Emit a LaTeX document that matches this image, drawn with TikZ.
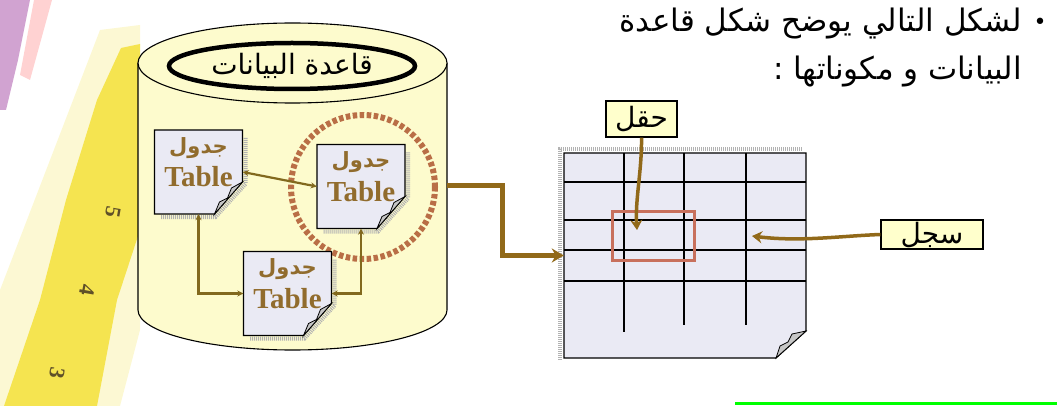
\documentclass[tikz,border=0pt]{standalone}
\usepackage{fontspec}
\setmainfont{Liberation Serif}
\newfontfamily\arabicfont[Script=Arabic]{DejaVu Sans}
\newfontfamily\symfont{DejaVu Sans}
\TeXXeTstate=1
\usetikzlibrary{arrows.meta,calc,shapes.geometric}
\definecolor{dbyellow}{RGB}{253,251,205}
\definecolor{paper}{RGB}{234,234,244}
\definecolor{linkbrown}{RGB}{130,105,30}
\definecolor{flowbrown}{RGB}{145,105,25}
\definecolor{ringred}{RGB}{185,110,70}
\definecolor{boxred}{RGB}{200,112,92}
\definecolor{tabletext}{RGB}{145,108,45}
\definecolor{labelfill}{RGB}{255,255,204}
\definecolor{ruleryellow}{RGB}{245,228,80}
\definecolor{rulerink}{RGB}{95,80,40}
\definecolor{markgreen}{RGB}{0,255,0}

\begin{document}
\begin{tikzpicture}[x=1pt, y=-1pt, >=Stealth,
    dbwall/.style={draw=black, line width=1.1pt, fill=dbyellow},
    dbtitle/.style={ellipse, draw=black, line width=4.5pt, minimum width=246pt,
        minimum height=46pt, inner sep=0pt, font=\arabicfont\fontsize{28}{30}\selectfont},
    docpage/.style={draw=black, line width=1.2pt, fill=paper},
    docshadow/.style={draw=gray!60, line width=4pt, dash pattern=on 1pt off 1pt},
    curl/.style={draw=black, line width=0.8pt, fill=gray!45},
    arabictag/.style={text=tabletext, inner sep=0pt, font=\arabicfont\bfseries\fontsize{21}{22}\selectfont},
    latintag/.style={text=tabletext, inner sep=0pt, font=\bfseries\fontsize{29}{30}\selectfont},
    ring/.style={draw=ringred, line width=6pt, dash pattern=on 4.5pt off 2.5pt},
    link/.style={draw=linkbrown, line width=2.2pt,
        {Stealth[length=6pt,width=6pt]}-{Stealth[length=6pt,width=6pt]}},
    flow/.style={draw=flowbrown, line width=5pt, -{Stealth[length=12pt,width=14pt]}},
    gridline/.style={black, line width=1.6pt},
    fieldbox/.style={draw=boxred, line width=3pt},
    tag/.style={draw=black, line width=1.3pt, fill=labelfill, inner sep=0pt,
        font=\arabicfont\fontsize{28}{30}\selectfont},
    pointer/.style={draw=flowbrown, line width=3.5pt, -{Stealth[length=10pt,width=12pt]}},
    heading/.style={anchor=east, inner sep=0pt, font=\arabicfont\fontsize{31}{34}\selectfont},
    digit/.style={rotate=-100, text=rulerink, font=\bfseries\fontsize{22}{22}\selectfont}]

    \useasboundingbox (0,0) rectangle (1057,406);

    % -- ruler strip on the left edge --
    \fill[ruleryellow!25] (100,30) -- (140,25) -- (140,330) -- (120,406) -- (0,406) -- (0,290) -- cycle;
    \fill[ruleryellow] (121,48) -- (140,44) -- (140,230) -- (117,300) -- (97,406)
        -- (4,406) -- (40,300) -- (66,200) -- (97,100) -- cycle;
    \fill[violet!45!white, opacity=0.8] (0,0) -- (30,0) -- (18,60) -- (6,110) -- (0,110) -- cycle;
    \fill[red!25!white, opacity=0.7] (34,0) -- (52,0) -- (30,80) -- (20,75) -- cycle;
    \node[digit] (mk5) at (113,212) {5};
    \node[digit] (mk4) at (87,290) {4};
    \node[digit] (mk3) at (57,373) {3};

    % -- database cylinder --
    \def\cxm{292.5}
    \def\crx{154.5}
    \filldraw[dbwall] (138,63) -- (138,310)
        arc[start angle=180, end angle=0, x radius=\crx, y radius=40] -- (447,63);
    \filldraw[dbwall] (\cxm,63) ellipse[x radius=\crx, y radius=40];
    \node[dbtitle] (dbname) at (292,66) {\beginR قاعدة البيانات\endR};
    \coordinate (dbout) at (447,186);

    % -- ring round the selected table --
    \draw[ring] (363,187) circle[radius=72];

    % -- the three tables: shadow, page, curled corner, labels --
    \foreach \nm/\cx/\cy in {tA/198.5/172, tB/361/186.5, tC/287.5/293.5}{
        \draw[docshadow] (\cx+47,\cy-34) -- (\cx+47,\cy+12) -- (\cx+17,\cy+45) -- (\cx-38,\cy+45);
        \filldraw[docpage] (\cx-44,\cy-42) -- (\cx+44,\cy-42) -- (\cx+44,\cy+10)
            -- (\cx+16,\cy+42) -- (\cx-44,\cy+42) -- cycle;
        \filldraw[curl] (\cx+44,\cy+10) -- (\cx+33,\cy+16) -- (\cx+29,\cy+26)
            -- (\cx+21,\cy+30) -- (\cx+16,\cy+42) -- cycle;
        \node[minimum width=88pt, minimum height=84pt, inner sep=0pt] (\nm) at (\cx,\cy) {};
        \node[arabictag] (\nm-ar) at (\cx,\cy-24) {\beginR جدول\endR};
        \node[latintag] (\nm-en) at (\cx,\cy+5) {Table};
    }

    % -- relations between tables --
    \draw[link] (tA.east) -- (tB.west);
    \draw[link] (tA.south) |- (tC.west);
    \draw[link] (tC.east) -| (tB.south);

    % -- table sheet with rows and columns --
    \draw[docshadow] (560,360) -- (560,149) -- (803,149);
    \filldraw[docpage] (564,153) -- (806,153) -- (806,331) -- (776,358) -- (564,358) -- cycle;
    \node[minimum width=242pt, minimum height=205pt, inner sep=0pt] (grid) at (685,255.5) {};
    \foreach \yy in {182,220,250,281}
        \draw[gridline] (564,\yy) -- (806,\yy);
    \foreach \xx/\yend in {624/332, 684/325, 746/325}
        \draw[gridline] (\xx,153) -- (\xx,\yend);
    \filldraw[curl] (806,331) -- (792,334) -- (788,342) -- (780,346) -- (776,358) -- cycle;
    \draw[fieldbox] (612,212) rectangle (694,260);

    % -- database to sheet --
    \draw[flow] (dbout) -- ++(55,0) |- (grid.west);

    % -- field and record tags --
    \node[tag, minimum width=71pt, minimum height=36pt] (field) at (641.5,119) {\beginR حقل\endR};
    \node[tag, minimum width=102pt, minimum height=29pt] (record) at (932,234.5) {\beginR سجل\endR};
    \coordinate (fieldpt) at (637,230);
    \coordinate (recordpt) at (752,236);
    \draw[pointer] (field.south) .. controls (642,170) and (635,200) .. (fieldpt);
    \draw[pointer] (record.west) .. controls (840,236) and (800,242) .. (recordpt);

    % -- heading, two lines --
    \node[font=\symfont\fontsize{22}{22}\selectfont] (bullet) at (1040,24) {•};
    \node[heading] (line1) at (1022,24) {\beginR لشكل التالي يوضح شكل قاعدة\endR};
    \node[heading] (line2) at (1022,72) {\beginR البيانات و مكوناتها :\endR};

    \draw[markgreen, line width=3pt] (735,403) -- (1057,403);
\end{tikzpicture}
\end{document}
